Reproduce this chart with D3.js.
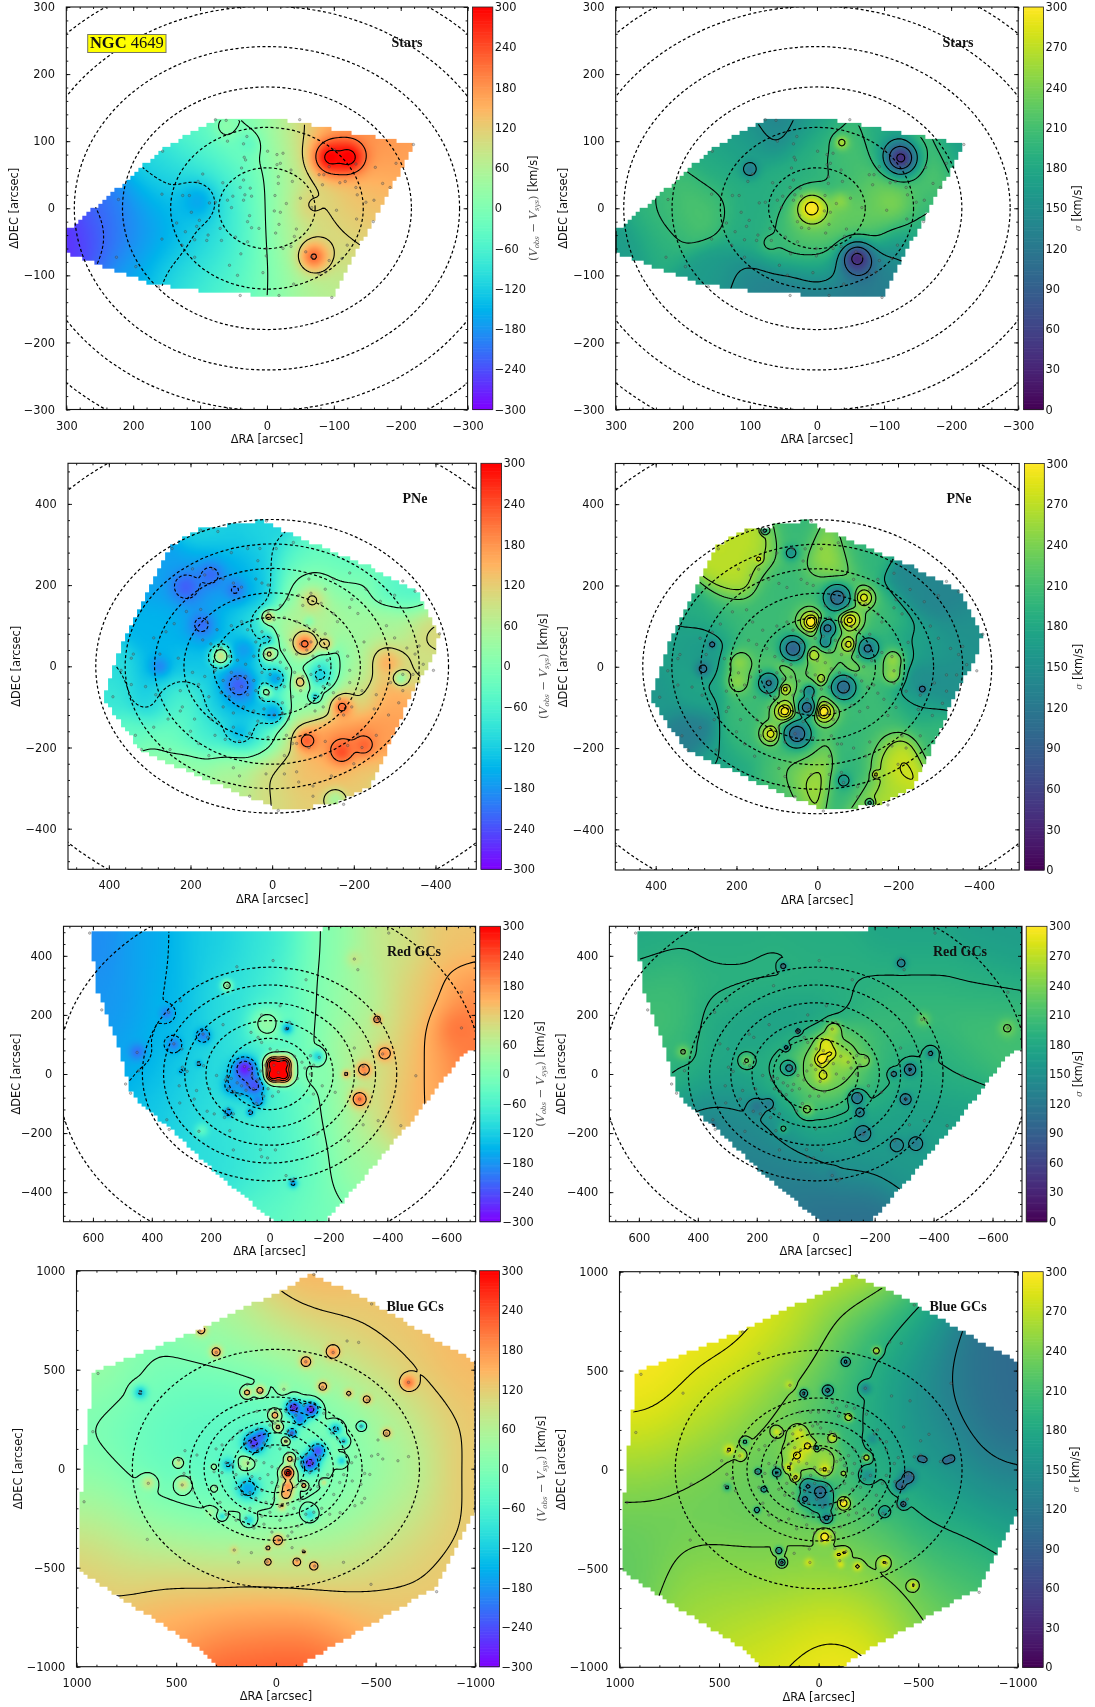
<!DOCTYPE html>
<html><head><meta charset="utf-8">
<script src="https://cdn.jsdelivr.net/npm/d3@7"></script>
<style>html,body{margin:0;background:#fff}svg{display:block;filter:blur(.35px)}text{font-family:"DejaVu Sans";fill:#111}</style>
</head><body><svg id="c" width="1095" height="1707"></svg>
<script>
// ---- footprints [RA, DEC]
const starsFoot=[[300,-35],[226,27],[155,87],[93,122],[77,131],[-20,131],[-219,94],[-182,27],[-98,-132],[64,-128],[169,-114],[300,-67]];
const pneFoot=[[410,-79],[360,73],[267,254],[246,299],[177,336],[22,357],[-64,316],[-235,246],[-355,180],[-407,77],[-399,32],[-352,-42],[-261,-247],[-235,-296],[-158,-337],[-72,-349],[-12,-349],[91,-309],[314,-211],[365,-149]];
const redFoot=[[600,476],[260,483],[-181,483],[-181,505],[-705,505],[-705,90],[-658,68],[-479,-164],[-247,-435],[-181,-505],[-20,-505],[176,-339],[355,-169],[462,-79],[516,102],[582,277],[600,418]];
const blueFoot=[[-181,978],[-313,919],[-480,836],[-1005,540],[-1005,-200],[-806,-604],[-243,-924],[-111,-1005],[294,-1005],[373,-916],[985,-520],[988,-385],[962,2],[909,490],[399,692],[-23,894]];
// ---- tracers [RA, DEC]
const starsPts=[[77,132],[61,131],[-49,132],[-219,95],[156,85],[30,107],[35,96],[59,100],[-1,85],[-15,80],[-24,82],[34,76],[32,72],[38,60],[-20,67],[-15,65],[-38,40],[-17,47],[-17,37],[-36,57],[-83,35],[-93,62],[-78,50],[-85,50],[-101,87],[-133,66],[-162,61],[-193,67],[-173,37],[-184,31],[-133,31],[-117,40],[-109,38],[-135,20],[-148,9],[-160,12],[-104,-3],[-134,-16],[-159,-20],[-67,1],[-50,15],[-29,7],[-12,19],[-11,-4],[-20,-6],[-18,-24],[-13,-37],[-44,-31],[-41,-42],[-36,-57],[-24,-60],[1,-60],[1,-71],[-58,-65],[-67,-72],[-93,-78],[-112,-75],[-120,-55],[-88,-95],[-78,-98],[-40,-113],[6,-96],[-18,-130],[-97,-133],[40,-130],[44,-100],[56,-85],[39,-68],[29,-50],[47,-43],[12,-30],[23,-29],[29,-20],[26,-11],[53,1],[59,12],[66,38],[77,9],[86,8],[40,31],[35,42],[25,30],[23,18],[33,20],[35,12],[51,18],[70,-30],[88,-40],[101,-18],[105,-27],[113,-6],[135,-22],[157,21],[126,19],[116,19],[103,40],[96,51],[157,-46],[225,-73],[196,-87],[162,-117],[127,-55],[122,-35],[108,-47],[108,-73],[90,-48],[68,-48],[222,13]];
const pnePts=[[175,335],[133,332],[14,358],[245,290],[-52,305],[195,240],[165,225],[145,240],[120,215],[95,205],[75,195],[40,215],[25,205],[10,200],[35,260],[100,280],[60,290],[30,290],[-10,290],[-90,215],[-130,190],[-150,215],[-190,230],[-230,190],[-320,210],[-350,185],[-300,175],[-265,160],[-210,130],[-190,145],[-195,165],[-150,130],[-120,155],[-95,180],[-75,150],[-40,165],[-65,175],[-20,150],[10,135],[-5,115],[-30,120],[-60,110],[-85,100],[-105,90],[-130,80],[-160,110],[-225,60],[-280,100],[-300,70],[-410,80],[-330,45],[-350,30],[-370,5],[-320,-20],[-290,-40],[-255,-70],[-220,-60],[-190,-40],[-190,-10],[-185,25],[-160,35],[-135,15],[-115,0],[-100,25],[-85,40],[-70,55],[-95,60],[-60,30],[-45,65],[-30,40],[-15,75],[5,70],[25,85],[40,60],[60,90],[75,110],[100,100],[135,90],[160,110],[175,140],[210,135],[240,105],[260,85],[170,65],[150,55],[125,45],[105,25],[85,15],[65,5],[45,25],[20,30],[0,15],[-20,10],[-35,-5],[-55,-15],[-75,-25],[-95,-20],[-110,-35],[-125,-50],[-140,-45],[-150,-65],[-125,-100],[-105,-110],[-85,-95],[-70,-60],[-50,-75],[-30,-50],[-15,-30],[5,-20],[25,-15],[45,-35],[65,-25],[85,-30],[100,-15],[120,-35],[140,-10],[165,-25],[195,-15],[230,20],[275,30],[340,30],[370,-10],[345,-45],[310,-50],[285,-70],[225,-60],[180,-45],[155,-75],[125,-65],[105,-75],[95,-55],[75,-50],[60,-70],[40,-60],[25,-80],[10,-70],[-10,-55],[-25,-90],[-45,-110],[-40,-130],[-25,-115],[-5,-120],[20,-105],[45,-110],[70,-100],[95,-115],[120,-100],[150,-130],[190,-130],[225,-110],[255,-130],[290,-150],[335,-170],[320,-205],[250,-205],[180,-190],[140,-170],[115,-180],[95,-150],[80,-185],[55,-165],[35,-135],[10,-175],[-35,-170],[-50,-190],[-30,-220],[-30,-265],[-60,-190],[-90,-200],[-120,-220],[-130,-185],[-185,-195],[-220,-200],[-255,-170],[-285,-120],[-250,-105],[-195,-100],[-175,-120],[-165,-80],[-210,-170],[-200,-240],[-145,-270],[-100,-295],[-65,-285],[-100,-320],[-175,-340],[-15,-355],[-60,-260],[15,-265],[95,-250],[80,-270],[55,-320],[155,-220],[-320,-60],[-310,-90],[-345,-20],[-360,50],[-395,-10],[390,-75],[345,20],[290,70],[220,-100],[200,-160]];
const redPts=[[611,477],[-405,477],[570,217],[111,363],[-12,384],[-56,356],[-124,319],[-288,389],[-300,353],[143,299],[302,248],[343,209],[-360,184],[-372,183],[-652,277],[-652,156],[-384,68],[-318,26],[-324,0],[-259,2],[-306,-85],[-497,-6],[-288,88],[325,102],[298,85],[226,135],[210,124],[158,167],[27,200],[-36,231],[-56,152],[-68,175],[450,73],[445,11],[489,-34],[472,-65],[242,36],[296,23],[280,9],[224,28],[307,-40],[248,-56],[204,-51],[256,-85],[305,-98],[349,-155],[341,-188],[240,-194],[212,-126],[188,-135],[153,-147],[123,-135],[135,-192],[141,-118],[123,-257],[31,-256],[27,-280],[7,-284],[-20,-257],[0,-186],[-56,-344],[-74,-361],[-83,-355],[-161,-203],[-268,-226],[-318,-172],[-369,-158],[-446,-175],[-149,-68],[-179,-40],[-223,-62],[-169,56],[-139,62],[-110,40],[-139,0],[-26,79],[-2,85],[27,107],[63,141],[39,124],[85,25],[70,15],[60,-5],[75,-35],[95,-40],[110,-30],[130,-15],[150,-20],[140,-50],[120,-60],[100,-70],[80,-55],[55,-50],[40,-20],[30,10],[15,30],[0,15],[-15,30],[-30,5],[-40,45],[-60,35],[-70,0],[-85,60],[-95,-15],[-15,-25],[5,-50],[20,-75],[-10,-75],[-30,-60],[45,-100],[65,-125],[145,-10],[180,-5],[-120,20],[-150,30]];
const bluePts=[[-190,981],[-480,832],[892,481],[918,187],[962,-167],[645,-357],[681,386],[640,-74],[382,695],[299,587],[-287,587],[-357,645],[-415,638],[-150,540],[-665,436],[-234,411],[-366,372],[-459,347],[144,426],[79,384],[-40,401],[-427,215],[-554,178],[-512,145],[-480,64],[-512,72],[-536,49],[-612,40],[-665,61],[-471,-29],[-445,-24],[-427,-79],[-383,-62],[-445,-150],[-431,-172],[-396,-187],[-322,-222],[-339,-473],[-477,-584],[-806,-621],[-195,-492],[-106,-461],[-137,-414],[-81,-399],[44,-470],[47,-402],[-14,-360],[123,-424],[188,-473],[209,-411],[487,44],[461,-24],[470,-82],[434,-45],[417,-108],[456,91],[396,69],[310,-15],[300,-90],[280,-170],[250,-230],[200,-260],[150,-250],[110,-300],[60,-280],[20,-320],[-20,-260],[-60,-340],[-80,-320],[-110,-290],[-150,-230],[-190,-220],[-230,-200],[-270,-230],[-290,-130],[-320,-70],[-340,-30],[-380,30],[-400,60],[-340,100],[-310,150],[-280,180],[-340,140],[-295,200],[-240,280],[-180,310],[-140,320],[-90,310],[-70,340],[-100,270],[-50,290],[0,290],[40,290],[95,290],[5,230],[-10,210],[-60,190],[-80,180],[-50,140],[30,220],[90,200],[130,180],[180,190],[220,150],[270,120],[300,100],[150,130],[120,110],[90,100],[60,130],[30,110],[-20,100],[-60,80],[-100,90],[-150,70],[-180,100],[-220,60],[-180,30],[-210,0],[-170,-20],[-130,20],[-110,50],[-90,40],[-70,10],[-50,-10],[-30,-40],[-10,0],[20,10],[60,30],[100,40],[140,30],[180,10],[220,20],[250,30],[270,-20],[200,-30],[160,-70],[120,-40],[80,-50],[40,-30],[20,-70],[-10,-90],[-40,-80],[-70,-110],[-100,-90],[-130,-70],[-170,-100],[-210,-90],[-230,-50],[-260,-30],[200,-100],[170,-130],[130,-120],[100,-150],[70,-110],[50,-170],[10,-150],[-20,-190],[-60,-180],[-90,-200],[-120,-160],[-60,-230],[30,-220],[70,-240],[130,-200]];
// ---- map values: broad samples [RA,DEC,value] and local peaks [RA,DEC,value,radius]
const starsVelBroad=[[75,130,-30],[30,130,5],[-20,130,70],[-80,130,140],[-150,105,175],[-215,90,165],[100,100,-55],[60,100,-10],[20,100,-5],[-20,100,40],[-60,100,125],[-100,100,200],[-170,100,190],[160,50,-100],[120,50,-95],[80,50,-85],[40,50,-55],[0,50,0],[-40,50,70],[-80,50,110],[-130,50,150],[-180,50,160],[230,0,-215],[180,0,-170],[140,0,-150],[100,0,-125],[60,0,-90],[20,0,-35],[-20,0,45],[-60,0,100],[-100,0,120],[-140,0,130],[-170,0,135],[300,-50,-270],[250,-50,-235],[200,-50,-185],[150,-50,-160],[100,-50,-115],[60,-50,-85],[20,-50,-40],[-20,-50,45],[-60,-50,85],[-100,-50,105],[-130,-50,110],[200,-100,-160],[140,-100,-100],[100,-100,-85],[60,-100,-70],[20,-100,-30],[-20,-100,20],[-60,-100,65],[-100,-100,85],[60,-130,-40],[0,-130,10],[-80,-130,55]];
const starsVelPeaks=[[60,122,15,18],[30,95,-35,18],[-70,5,112,25],[105,10,-160,28],[-95,76,300,26],[-122,76,305,24],[-70,-72,215,22]];
const starsSigBroad=[[300,-50,165],[230,-30,190],[190,0,218],[215,5,215],[165,5,215],[240,15,190],[150,-100,165],[150,50,180],[100,100,170],[60,125,130],[0,125,150],[100,-115,135],[30,-120,125],[-30,-125,118],[-80,-120,125],[50,-50,195],[100,-30,185],[100,10,185],[50,30,190],[0,60,190],[0,100,190],[-35,60,205],[-35,100,235],[-90,110,180],[-90,40,220],[-170,70,225],[-215,90,160],[-150,-40,185],[-120,-75,140],[-70,-30,225],[0,-60,225],[20,-30,235],[-35,-30,230],[-10,-90,165],[-150,10,205]];
const starsSigPeaks=[[100,58,125,12],[-37,98,262,10],[-110,10,238,35],[-35,10,245,14],[70,-52,205,14],[8,0,305,22],[-125,75,40,25],[-60,-75,35,25]];
const pneVelBroad=[[170,330,-110],[100,330,-120],[20,340,-110],[250,250,-170],[170,250,-160],[100,250,-150],[30,250,-120],[-50,250,-60],[-120,250,-30],[-200,250,-40],[280,200,-165],[190,200,-180],[130,200,-170],[60,200,-170],[20,200,-130],[-50,200,30],[-100,200,50],[-200,200,20],[-300,200,-40],[-350,180,-60],[320,100,-150],[250,100,-150],[170,100,-170],[100,100,-140],[50,100,-90],[-30,100,60],[-100,100,60],[-200,100,40],[-300,100,50],[-380,100,110],[380,0,-100],[280,0,-150],[200,0,-130],[60,0,-150],[0,0,-50],[-60,0,50],[-120,0,-70],[-200,0,40],[-280,0,130],[-350,0,90],[400,-80,-80],[300,-80,-120],[230,-80,-50],[130,-80,-110],[80,-80,-170],[20,-80,-130],[-50,-80,30],[-100,-80,0],[-200,-80,100],[-300,-80,160],[350,-170,-30],[250,-170,-20],[170,-170,-70],[90,-170,-100],[20,-170,-100],[-40,-170,100],[-120,-170,180],[-220,-170,190],[-290,-170,170],[300,-250,30],[200,-250,30],[100,-250,50],[0,-250,100],[-70,-250,140],[-150,-250,140],[-240,-250,130],[90,-330,70],[0,-330,100],[-80,-330,120],[-230,-320,120]];
const pneVelPeaks=[[-98,163,110,22],[-80,55,215,22],[-130,55,130,15],[13,65,-115,15],[124,25,110,18],[8,30,130,12],[-70,-38,150,14],[-117,-21,-115,22],[14,-62,60,14],[-171,-100,215,20],[-85,-183,225,20],[-170,-210,240,25],[-225,-195,220,22],[-283,8,150,20],[9,122,130,12],[82,-46,-225,30],[-8,-30,-165,20],[70,40,-170,25],[173,102,-215,22],[211,196,-225,28],[151,225,-215,25],[91,188,-205,20],[276,0,-190,18],[-3,-116,-170,22],[82,-161,-140,22],[-105,-75,-120,9],[-315,-30,30,13],[-90,110,10,10],[-154,-329,50,20],[-270,-295,50,16]];
const pneSigBroad=[[214,220,270],[150,280,270],[-30,260,265],[60,300,200],[-100,280,195],[-250,190,140],[-320,170,135],[-370,100,150],[-230,60,175],[300,-60,175],[350,50,170],[400,-80,160],[317,-165,125],[250,-240,175],[200,-300,185],[100,-300,210],[25,-259,270],[-90,-280,190],[-190,-222,280],[-150,-320,265],[-300,-170,200],[-250,-100,195],[-350,-40,150],[-260,-60,135],[100,130,205],[150,100,205],[230,130,200],[300,130,185],[100,220,200],[0,190,205],[-170,120,205],[150,-100,205],[180,-170,200],[50,-220,200],[-120,-190,200],[-170,-120,205],[0,0,240],[60,0,220],[-60,0,220],[0,-60,210],[0,60,210],[280,60,160],[-300,50,160]];
const pneSigPeaks=[[193,10,245,28],[197,-35,245,26],[-186,16,250,26],[-186,-20,250,22],[283,-5,110,14],[80,-5,245,18],[-85,-5,245,18],[0,20,240,22],[-20,-10,245,22],[15,110,250,32],[-80,115,250,30],[-115,170,245,26],[-78,55,245,24],[80,-110,250,30],[-15,-110,250,32],[115,-165,245,26],[80,-55,245,20],[60,45,150,28],[-125,45,165,24],[-50,170,150,30],[-25,95,155,22],[120,-40,165,24],[-65,-50,150,28],[25,-100,150,22],[50,-165,150,30],[15,110,305,18],[-80,115,295,18],[-115,170,285,15],[-78,55,285,13],[10,30,270,12],[-10,-30,265,10],[80,-55,285,10],[-15,-110,305,18],[80,-110,300,18],[115,-165,285,15],[60,45,95,18],[-125,45,115,16],[-50,170,105,20],[-25,95,110,13],[-20,60,135,12],[120,-40,120,16],[-65,-50,105,18],[25,-100,100,14],[20,-60,135,12],[50,-165,95,20],[260,55,95,7],[-260,-55,95,7],[-145,-265,285,7],[145,265,285,7],[65,280,155,14],[-65,-280,155,14],[130,335,150,7],[-130,-335,150,7]];
const redVelBroad=[[600,450,-190],[400,450,-160],[200,450,-120],[0,450,-85],[-200,450,10],[-400,450,90],[-650,450,130],[550,250,-180],[350,250,-150],[150,250,-100],[0,250,-70],[-150,250,0],[-300,250,50],[-500,250,120],[-680,250,190],[500,50,-170],[350,50,-140],[200,50,-110],[50,50,-70],[-100,50,-30],[-250,50,60],[-400,50,100],[-550,50,160],[-700,50,220],[400,-100,-130],[250,-100,-100],[100,-100,-80],[-50,-100,-60],[-200,-100,10],[-350,-100,90],[-480,-100,160],[200,-300,-100],[50,-300,-80],[-100,-300,-40],[-300,-300,40],[0,-480,-40],[-180,-480,-10]];
const redVelPeaks=[[-650,150,205,70],[450,75,-210,25],[10,170,25,50],[-160,0,10,45],[-60,155,-160,18],[-163,60,-110,20],[80,-20,-200,55],[130,-40,-180,25],[85,20,-285,30],[50,-40,-240,28],[40,-90,-200,20],[-10,35,325,24],[-50,35,325,24],[-10,-5,325,24],[-50,-5,325,24],[-28,15,335,26],[-320,15,195,24],[-260,0,170,13],[-305,-85,215,26],[-390,70,185,24],[-365,185,205,14],[145,300,45,17],[350,205,-200,20],[325,100,-200,22],[225,130,-200,22],[240,35,-170,10],[300,10,-160,10],[140,-130,-190,14],[65,-130,-180,12],[230,-190,-40,20],[-80,-370,-180,14],[-130,-90,-30,12],[-290,390,80,25]];
const redSigBroad=[[600,450,180],[300,450,185],[0,450,185],[-300,450,175],[-650,450,165],[550,300,205],[300,300,195],[100,300,195],[-100,300,190],[-300,300,195],[-600,300,190],[500,150,210],[300,150,175],[150,150,170],[50,150,155],[-300,150,205],[-600,150,210],[450,0,190],[300,0,180],[170,0,175],[100,0,220],[0,0,280],[-100,0,240],[-200,0,205],[-300,0,175],[-450,0,195],[350,-150,130],[250,-150,150],[150,-150,130],[50,-150,200],[-100,-150,170],[-200,-150,170],[-350,-150,170],[-450,-150,170],[250,-300,130],[100,-300,135],[-100,-300,155],[-300,-300,160],[0,-480,110],[-150,-480,110],[100,-420,125]];
const redSigPeaks=[[-40,50,245,75],[-165,45,245,18],[-100,50,260,25],[-60,150,260,22],[-35,100,285,25],[-50,70,290,18],[-25,-5,280,20],[-20,50,305,22],[90,20,130,18],[-265,0,130,12],[-320,15,105,18],[-305,-85,105,16],[-140,-80,110,20],[-150,-130,125,16],[-160,-200,115,22],[30,-120,240,20],[235,45,235,20],[-275,-240,130,20],[-340,-235,125,20],[-55,-340,130,15],[200,-110,120,22],[160,-100,125,16],[110,-185,200,14],[350,-175,100,10],[110,365,120,10],[-290,375,120,14],[60,145,100,7],[100,90,120,8],[-390,70,140,14],[-365,185,230,20],[-650,155,235,25],[450,75,235,20]];
const blueVelBroad=[[-180,950,155],[300,700,60],[0,700,105],[-300,700,125],[-500,720,135],[900,500,50],[600,500,-5],[300,500,-25],[0,500,-5],[-300,500,50],[-600,500,125],[-900,500,150],[900,250,-10],[600,250,-35],[300,250,-40],[0,250,-40],[-300,250,-5],[-600,250,55],[-900,250,125],[950,0,15],[600,0,-30],[300,0,-50],[0,0,-40],[-300,0,-10],[-600,0,40],[-1000,0,135],[900,-250,65],[600,-250,15],[300,-250,-5],[0,-250,0],[-300,-250,15],[-600,-250,70],[-950,-250,125],[950,-500,130],[600,-500,105],[300,-500,95],[0,-500,90],[-300,-500,90],[-600,-500,105],[-800,-500,135],[500,-750,165],[200,-750,145],[0,-750,140],[-300,-750,140],[-550,-750,145],[200,-950,245],[0,-950,250],[-200,-950,245]];
const blueVelPeaks=[[150,30,70,40],[-40,410,50,25],[-75,-310,30,20],[330,-220,40,20],[310,-100,40,15],[310,10,40,15],[680,385,-130,30],[240,20,-130,30],[-170,-230,-100,30],[-300,200,-140,30],[-340,140,-130,20],[-430,215,-120,18],[270,-240,-110,15],[135,-260,-110,25],[-330,40,-120,20],[140,-100,-170,50],[-120,250,-200,30],[-90,310,-280,35],[-175,300,-280,35],[70,170,-210,30],[110,130,-260,45],[-80,180,-230,22],[-210,90,-240,35],[-170,30,-270,40],[-60,-90,190,30],[-50,-130,170,30],[-30,-190,130,20],[-70,50,170,20],[-140,-85,230,12],[-60,-20,315,28],[145,385,170,20],[80,395,180,22],[375,700,170,25],[300,590,190,25],[-285,590,190,28],[-150,540,190,25],[-235,415,170,25],[-455,350,160,22],[-555,180,160,22],[-665,435,210,30],[-365,380,140,20],[-10,-360,190,25],[40,-400,170,12],[40,-470,180,15],[-105,-470,180,18],[-190,-490,180,18],[-140,-420,140,12],[210,-410,110,18],[640,-70,90,30],[465,-80,100,30],[490,30,90,20],[5,270,180,22],[-10,210,160,18],[-50,140,150,15],[-240,-70,100,12]];
const blueSigBroad=[[-200,950,285],[400,700,300],[100,700,280],[-200,700,225],[-400,700,175],[850,500,300],[500,500,285],[200,500,250],[-100,500,210],[-400,500,160],[-700,500,120],[-950,500,100],[900,250,290],[600,250,270],[300,250,245],[0,250,215],[-300,250,180],[-600,250,140],[-950,250,100],[950,0,255],[600,0,240],[300,0,225],[0,0,220],[-300,0,180],[-600,0,160],[-950,0,130],[950,-250,230],[600,-250,230],[300,-250,230],[0,-250,230],[-300,-250,215],[-600,-250,180],[-950,-250,165],[980,-500,225],[600,-500,250],[300,-500,245],[0,-500,250],[-300,-500,240],[-600,-500,210],[-800,-500,205],[500,-750,260],[200,-750,265],[-100,-750,275],[-350,-750,260],[-600,-750,235],[300,-950,285],[0,-950,295],[-150,-950,300]];
const blueSigPeaks=[[90,80,265,75],[-30,50,255,60],[0,-150,150,65],[100,180,280,35],[55,120,295,25],[110,70,295,25],[150,10,290,20],[115,-40,300,18],[-30,0,290,25],[-70,160,280,20],[-125,-170,315,25],[-150,265,280,18],[-240,60,280,15],[-125,-20,265,13],[55,-85,125,30],[-10,-110,100,30],[70,-150,110,20],[-40,-245,110,22],[-30,-170,130,25],[-245,-30,150,30],[210,-15,120,18],[305,-10,130,13],[275,-100,120,12],[310,-205,130,12],[-450,-40,90,30],[-410,-80,90,25],[-425,-175,85,15],[-510,55,100,15],[-530,50,100,15],[-665,55,90,15],[-640,45,90,15],[-330,-215,150,22],[-270,155,150,22],[-135,545,110,16],[-235,410,130,22],[-45,400,110,20],[75,385,110,16],[10,110,140,10],[200,-410,130,15],[185,-470,100,14],[-30,-340,305,28],[-100,-430,290,20],[-130,-420,290,18],[-110,-480,285,15],[-195,-490,295,18],[-330,-470,290,22],[50,-470,280,18],[-475,-585,290,20],[-290,600,270,18],[150,430,270,18],[450,100,290,22],[390,70,280,15],[210,190,280,18],[370,140,170,14],[460,-90,180,16]];
// ---- axis data
const velTicks=d3.range(-300,301,60), sigTicks=d3.range(0,301,30);
const isoStars=[72,144,216,288,360,432], isoWide=[144,216,288,360,432,720];

const rainbow=t=>{const r=Math.abs(2*t-.5),g=Math.sin(Math.PI*t),b=Math.cos(Math.PI*t/2);
  return `rgb(${Math.min(255,r*255)|0},${Math.max(0,g*255)|0},${Math.max(0,b*255)|0})`};
const panels=[
 {box:[66.3,467.6,7,409.5],cb:[472.5,492.8],lim:[300,300],maj:[100,100],foot:starsFoot,pts:starsPts,broad:starsVelBroad,peaks:starsVelPeaks,r:33,ps:1,lv:[-220,-120,0,110,210,285],vel:1,iso:isoStars,name:"Stars",nx:407,ny:43,lab:533,yl:14,ngc:1},
 {box:[615.7,1018.2,7,409.5],cb:[1023.4,1043.6],lim:[300,300],maj:[100,100],foot:starsFoot,pts:starsPts,broad:starsSigBroad,peaks:starsSigPeaks,r:28,ps:1,lv:[50,100,150,200,250,290],iso:isoStars,name:"Stars",nx:958,ny:43,lab:1076.6,yl:563},
 {box:[68,476.3,463.3,869.3],cb:[480.9,501.6],lim:[500,500],maj:[200,200],foot:pneFoot,pts:pnePts,broad:pneVelBroad,peaks:pneVelPeaks,r:38,ps:1.3,lv:[-200,-100,0,100,200],vel:1,iso:isoWide,name:"PNe",nx:415,ny:499,lab:543,yl:16},
 {box:[615.3,1019.2,463.5,870],cb:[1024.5,1044.3],lim:[500,500],maj:[200,200],foot:pneFoot,pts:pnePts,broad:pneSigBroad,peaks:pneSigPeaks,r:38,ps:1.25,lv:[75,125,175,225,250,275,290],iso:isoWide,name:"PNe",nx:959,ny:499,lab:1077.6,yl:563},
 {box:[63.5,475.6,926.3,1221.7],cb:[479.8,500.5],lim:[700,500],maj:[200,200],foot:redFoot,pts:redPts,broad:redVelBroad,peaks:redVelPeaks,r:90,ps:1.1,lv:[-220,-150,0,150,220,280],vel:1,iso:isoWide,name:"Red GCs",nx:414,ny:952,lab:539.5,yl:16},
 {box:[609.4,1022,926.3,1221.7],cb:[1026.2,1047],lim:[700,500],maj:[200,200],foot:redFoot,pts:redPts,broad:redSigBroad,peaks:redSigPeaks,r:85,ps:1.2,lv:[70,110,150,190,230,270,290],iso:isoWide,name:"Red GCs",nx:960,ny:952,lab:1078.3,yl:561},
 {box:[76.5,475.3,1270.7,1666.7],cb:[479.5,499.5],lim:[1000,1000],maj:[500,500],foot:blueFoot,pts:bluePts,broad:blueVelBroad,peaks:blueVelPeaks,r:170,ps:1.15,lv:[-240,-120,0,120,240,290],vel:1,iso:isoWide,name:"Blue GCs",nx:415,ny:1307,lab:541,yl:17.5},
 {box:[619.5,1017.8,1271.7,1667.3],cb:[1022.4,1043.2],lim:[1000,1000],maj:[500,500],foot:blueFoot,pts:bluePts,broad:blueSigBroad,peaks:blueSigPeaks,r:170,ps:1.2,lv:[50,90,130,190,240,285],iso:isoWide,name:"Blue GCs",nx:958,ny:1307,lab:1074.9,yl:561}
];
const svg=d3.select("#c"),defs=svg.append("defs");
panels.forEach((p,i)=>{
  const [x0,x1,y0,y1]=p.box,W=x1-x0,H=y1-y0;
  const x=d3.scaleLinear().domain([p.lim[0],-p.lim[0]]).range([x0,x1]);
  const y=d3.scaleLinear().domain([p.lim[1],-p.lim[1]]).range([y0,y1]);
  const color=p.vel?d3.scaleSequential(rainbow).domain([-300,300]).clamp(true):d3.scaleSequential(d3.interpolateViridis).domain([0,300]).clamp(true);
  const gx=Math.ceil(W/2),gy=Math.ceil(H/2),vals=new Float64Array(gx*gy);
  const xg=d3.scaleLinear().domain([0,gx]).range([p.lim[0],-p.lim[0]]),yg=d3.scaleLinear().domain([0,gy]).range([p.lim[1],-p.lim[1]]);
  const k=2*p.r*p.r;
  const small=document.createElement("canvas");small.width=gx;small.height=gy;
  const sc=small.getContext("2d"),img=sc.createImageData(gx,gy);
  const lut=d3.range(601).map(v=>d3.rgb(color(p.vel?v-300:v/2)));
  for(let j=0;j<gy;j++)for(let a=0;a<gx;a++){
    const ra=xg(a+.5),de=yg(j+.5);let s=0,w=1e-30;
    for(const b of p.broad){const dx=ra-b[0],dy=de-b[1],g=Math.exp(-(dx*dx+dy*dy)/k);s+=g*b[2];w+=g;}
    let f=s/w;
    for(const q of p.peaks){const dx=ra-q[0],dy=de-q[1],rr=q[3]*p.ps,g=Math.exp(-(dx*dx+dy*dy)/(rr*rr));f+=(q[2]-f)*g;}
    vals[j*gx+a]=f;
    const idx=p.vel?Math.round(Math.max(-300,Math.min(300,f))+300):Math.round(Math.max(0,Math.min(300,f))*2),c=lut[idx],o=(j*gx+a)*4;
    img.data[o]=c.r;img.data[o+1]=c.g;img.data[o+2]=c.b;img.data[o+3]=255;
  }
  sc.putImageData(img,0,0);
  const poly=p.foot.map(d=>[x(d[0]),y(d[1])]);
  const cv=document.createElement("canvas");cv.width=Math.round(W);cv.height=Math.round(H);
  const ctx=cv.getContext("2d");ctx.imageSmoothingEnabled=true;ctx.drawImage(small,0,0,cv.width,cv.height);
  ctx.globalCompositeOperation="destination-in";ctx.beginPath();
  const cw=W/100,ch=H/100;
  for(let a=0;a<100;a++)for(let b=0;b<100;b++){
    if(d3.polygonContains(poly,[x0+(a+.5)*cw,y0+(b+.5)*ch]))ctx.rect(Math.floor(a*cw),Math.floor(b*ch),Math.ceil(cw),Math.ceil(ch));
  }
  ctx.fill();
  const g=svg.append("g");
  defs.append("clipPath").attr("id","ax"+i).append("rect").attr("x",x0).attr("y",y0).attr("width",W).attr("height",H);
  defs.append("clipPath").attr("id","fp"+i).append("polygon").attr("points",poly.join(" "));
  g.append("image").attr("x",x0).attr("y",y0).attr("width",W).attr("height",H).attr("preserveAspectRatio","none").attr("href",cv.toDataURL());
  const sx=W/gx,sy=H/gy,cont=d3.contours().size([gx,gy]);
  const path=d3.geoPath(d3.geoTransform({point(a,b){this.stream.point(x0+a*sx,y0+b*sy)}}));
  const cg=g.append("g").attr("clip-path",`url(#ax${i})`).append("g").attr("clip-path",`url(#fp${i})`);
  cg.selectAll("path").data(p.lv).join("path").attr("d",l=>path(cont.contour(vals,l))).attr("fill","none").attr("stroke","#000").attr("stroke-width",1.1).attr("stroke-dasharray",l=>l<0?"3.2,2":null);
  g.append("g").attr("clip-path",`url(#ax${i})`).selectAll("ellipse").data(p.iso).join("ellipse")
   .attr("cx",x(0)).attr("cy",y(0)).attr("rx",a=>Math.abs(x(a)-x(0))).attr("ry",a=>Math.abs(y(a*.837)-y(0)))
   .attr("fill","none").attr("stroke","#000").attr("stroke-width",1.2).attr("stroke-dasharray","3,2.4");
  g.append("g").selectAll("circle").data(p.pts).join("circle").attr("cx",d=>x(d[0])).attr("cy",d=>y(d[1])).attr("r",1.25)
   .attr("fill","#777").attr("fill-opacity",.35).attr("stroke","#333").attr("stroke-opacity",.55).attr("stroke-width",.6);
  const tv=(l,m)=>d3.range(-Math.floor(l/m)*m,l+1e-6,m);
  const ax=(gen,sc,vals,size,pad,fmt,tr)=>{const a=g.append("g").attr("transform",tr).call(gen(sc).tickValues(vals).tickSize(size).tickPadding(pad).tickFormat(fmt));
    a.select(".domain").remove();a.selectAll("text").attr("font-size",11.4).attr("font-family","DejaVu Sans");a.selectAll("line").attr("stroke","#000").attr("stroke-width",.9);return a;};
  const f=d3.format("d"),nil=()=>"";
  const mx=tv(p.lim[0],p.maj[0]/5),my=tv(p.lim[1],p.maj[1]/5),Mx=tv(p.lim[0],p.maj[0]),My=tv(p.lim[1],p.maj[1]);
  ax(d3.axisBottom,x,mx,-2,0,nil,`translate(0,${y1})`);ax(d3.axisTop,x,mx,-2,0,nil,`translate(0,${y0})`);
  ax(d3.axisLeft,y,my,-2,0,nil,`translate(${x0},0)`);ax(d3.axisRight,y,my,-2,0,nil,`translate(${x1},0)`);
  ax(d3.axisBottom,x,Mx,-4,12,f,`translate(0,${y1})`);ax(d3.axisTop,x,Mx,-4,0,nil,`translate(0,${y0})`);
  ax(d3.axisLeft,y,My,-4,11.2,f,`translate(${x0},0)`);ax(d3.axisRight,y,My,-4,0,nil,`translate(${x1},0)`);
  g.append("rect").attr("x",x0).attr("y",y0).attr("width",W).attr("height",H).attr("fill","none").attr("stroke","#111").attr("stroke-width",1.1);
  g.append("text").attr("x",(x0+x1)/2).attr("y",y1+33.5).attr("text-anchor","middle").attr("font-size",11.4).text("ΔRA [arcsec]");
  g.append("text").attr("transform",`translate(${p.yl+4},${(y0+y1)/2}) rotate(-90)`).attr("text-anchor","middle").attr("font-size",11.4).text("ΔDEC [arcsec]");
  const cs=d3.scaleLinear().domain(p.vel?[-300,300]:[0,300]).range([y1,y0]);
  const steps=d3.range(0,256);
  const bw=p.cb[1]-p.cb[0],sh=H/256;
  g.append("g").selectAll("rect").data(steps).join("rect").attr("x",p.cb[0]).attr("width",bw).attr("y",s=>y1-(s+1)*sh).attr("height",sh+.6)
    .attr("fill",s=>color(cs.domain()[0]+(s+.5)/256*(cs.domain()[1]-cs.domain()[0])));
  g.append("rect").attr("x",p.cb[0]).attr("y",y0).attr("width",bw).attr("height",H).attr("fill","none").attr("stroke","#222").attr("stroke-width",.8);
  ax(d3.axisRight,cs,p.vel?velTicks:sigTicks,0,2,f,`translate(${p.cb[1]},0)`);
  const t=g.append("text").attr("transform",`translate(${p.lab+4},${(y0+y1)/2}) rotate(-90)`).attr("text-anchor","middle").attr("font-size",11.4);
  const mf="DejaVu Serif",mc="#555";
  if(p.vel){
    const m=(s,it,sz,dy)=>{const e=t.append("tspan").style("font-family",mf).style("fill",mc);if(it)e.attr("font-style","italic");if(sz)e.attr("font-size",sz);if(dy)e.attr("dy",dy);e.text(s);};
    m("(",0);m("V",1);m("obs",1,7,2);m(" − ",0,0,-2);m("V",1);m("sys",1,7,2);m(")",0,0,-2);
    t.append("tspan").text(" [km/s]");
  } else {
    t.append("tspan").style("font-family",mf).style("fill",mc).attr("font-style","italic").attr("font-size",9).text("σ");
    t.append("tspan").text(" [km/s]");
  }
  g.append("text").attr("x",p.nx).attr("y",p.ny+4).attr("text-anchor","middle").style("font-family","Liberation Serif").attr("font-weight","bold").attr("font-size",14).text(p.name);
  if(p.ngc){
    g.append("rect").attr("x",87.7).attr("y",34.5).attr("width",78.3).attr("height",18).attr("fill","#ff0").attr("stroke","#776").attr("stroke-width",1);
    const n=g.append("text").attr("x",126.8).attr("y",48.2).attr("text-anchor","middle").style("font-family","Liberation Serif").attr("font-size",16.5);
    n.append("tspan").attr("font-weight","bold").text("NGC");n.append("tspan").text(" 4649");
  }
});
</script></body></html>
